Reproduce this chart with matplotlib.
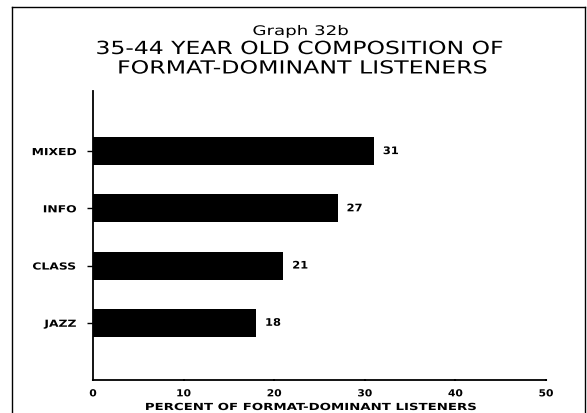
import matplotlib
matplotlib.use("Agg")
import matplotlib.pyplot as plt
from matplotlib.lines import Line2D
from matplotlib.patheffects import AbstractPathEffect
from matplotlib.transforms import Affine2D

categories = ["JAZZ", "CLASS", "INFO", "MIXED"]
values = [18, 21, 27, 31]
xticks = [0, 10, 20, 30, 40, 50]
title_top = "Graph 32b"
title_line1 = "35-44 YEAR OLD COMPOSITION OF"
title_line2 = "FORMAT-DOMINANT LISTENERS"
xlabel = "PERCENT OF FORMAT-DOMINANT LISTENERS"


class Stretch(AbstractPathEffect):
    """Widen glyphs horizontally (plotter-style lettering)."""

    def __init__(self, sx, anchor="center"):
        super().__init__()
        self.sx = sx
        self.anchor = anchor

    def draw_path(self, renderer, gc, tpath, affine, rgbFace=None):
        ext = affine.transform_path(tpath).get_extents()
        if self.anchor == "right":
            cx = ext.x1
        elif self.anchor == "left":
            cx = ext.x0
        else:
            cx = 0.5 * (ext.x0 + ext.x1)
        new = affine + Affine2D().translate(-cx, 0).scale(self.sx, 1).translate(cx, 0)
        renderer.draw_path(gc, tpath, new, rgbFace)


fig = plt.figure(figsize=(5.87, 4.14), dpi=100)
W, H = 587, 414
ax = fig.add_axes([93 / W, 1 - 381 / H, (546 - 93) / W, (381 - 92) / H])

ypos = list(range(len(categories)))
ax.barh(ypos, values, height=0.49, color="black")
for y, v in zip(ypos, values):
    t = ax.text(v + 1.0, y, str(v), va="center", ha="left", fontsize=7.5,
                fontweight="bold")
    t.set_path_effects([Stretch(1.1, "left")])

ax.set_xlim(0, 50)
ax.set_ylim(-1.0, 4.05)
ax.set_yticks(ypos)
ax.set_yticklabels(categories, fontsize=7, fontweight="bold")
ax.set_xticks(xticks)
ax.set_xticklabels([str(t) for t in xticks], fontsize=7, fontweight="bold")
ax.tick_params(axis="y", length=4, width=1, pad=8)
ax.tick_params(axis="x", length=2, width=1.5, direction="inout", pad=5)
for lbl in ax.get_yticklabels():
    lbl.set_path_effects([Stretch(1.27, "right")])
for lbl in ax.get_xticklabels():
    lbl.set_path_effects([Stretch(1.1, "center")])
for s in ["top", "right"]:
    ax.spines[s].set_visible(False)
ax.spines["left"].set_linewidth(1.3)
ax.spines["bottom"].set_linewidth(1.3)

xl = fig.text(311 / W, 1 - 411 / H, xlabel, ha="center", va="baseline",
              fontsize=7, fontweight="bold")
xl.set_path_effects([Stretch(1.37)])

t0 = fig.text(301 / W, 1 - 36 / H, title_top, ha="center", va="baseline", fontsize=9.5)
t0.set_path_effects([Stretch(1.38)])
t1 = fig.text(299 / W, 1 - 55 / H, title_line1, ha="center", va="baseline", fontsize=13)
t1.set_path_effects([Stretch(1.3)])
t2 = fig.text(302 / W, 1 - 74.5 / H, title_line2, ha="center", va="baseline", fontsize=13)
t2.set_path_effects([Stretch(1.31)])

# outer frame
fig.add_artist(Line2D([12 / W, 12 / W], [0, 1 - 8 / H], color="black", lw=1, transform=fig.transFigure))
fig.add_artist(Line2D([12 / W, 585 / W], [1 - 8 / H, 1 - 8 / H], color="black", lw=1, transform=fig.transFigure))
fig.add_artist(Line2D([585 / W, 585 / W], [0, 1 - 8 / H], color="black", lw=1, transform=fig.transFigure))

fig.savefig("out.png", dpi=100)
